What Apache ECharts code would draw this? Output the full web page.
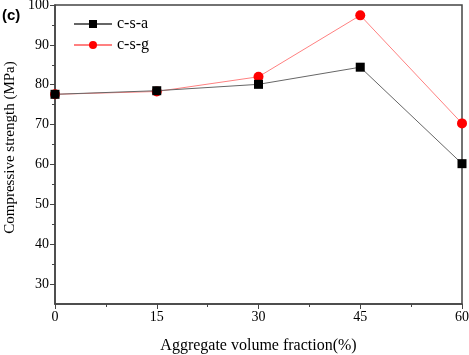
<!DOCTYPE html>
<html><head><meta charset="utf-8">
<script src="https://cdn.jsdelivr.net/npm/echarts@6/dist/echarts.min.js"></script>
<style>html,body{margin:0;padding:0;background:#fff}#c{width:469px;height:355px}</style>
</head><body><div id="c"></div>
<script>
const fractions = [0, 15, 30, 45, 60];
const csa = [77.6, 78.5, 80.1, 84.4, 60.2];
const csg = [77.6, 78.3, 82.0, 97.4, 70.3];
const yMajor = [30, 40, 50, 60, 70, 80, 90, 100];
const yMinor = [35, 45, 55, 65, 75, 85, 95];
const xTicks = [0, 15, 30, 45, 60];

const font = 'Liberation Serif, Times New Roman, serif';
const axisColor = '#444';
const chart = echarts.init(document.getElementById('c'), null, {renderer: 'canvas'});
chart.setOption({
  animation: false,
  grid: {left: 55, right: 7, top: 5, bottom: 51, outerBoundsMode: 'none', containLabel: false, show: true, borderColor: axisColor, borderWidth: 1.5, backgroundColor: 'transparent'},
  graphic: [{type: 'text', left: 2, top: 8, style: {text: '(c)', font: 'bold 15px Arial, Liberation Sans, sans-serif', fill: '#000'}}],
  legend: {
    left: 68, top: 11, orient: 'vertical', itemGap: 5, itemWidth: 38, itemHeight: 10,
    textStyle: {fontFamily: font, fontSize: 16, color: '#000'},
    data: ['c-s-a', 'c-s-g']
  },
  xAxis: {
    type: 'value', min: 0, max: 60, interval: 15,
    name: 'Aggregate volume fraction(%)', nameLocation: 'middle', nameGap: 34,
    nameTextStyle: {fontFamily: font, fontSize: 16, color: '#000'},
    axisLine: {show: true, onZero: false, lineStyle: {color: axisColor, width: 1.5}},
    axisTick: {show: true, length: 5, lineStyle: {color: axisColor}, customValues: xTicks},
    minorTick: {show: true, splitNumber: 2, length: 3, lineStyle: {color: axisColor}},
    axisLabel: {fontFamily: font, fontSize: 14, color: '#000', margin: 6, customValues: xTicks},
    splitLine: {show: false}
  },
  yAxis: [{
    type: 'value', min: 25, max: 100,
    name: 'Compressive strength (MPa)', nameLocation: 'middle', nameGap: 34,
    nameTextStyle: {fontFamily: font, fontSize: 15, color: '#000', padding: [0, 0, 0, 14]},
    axisLine: {show: true, onZero: false, lineStyle: {color: axisColor, width: 1.5}},
    axisTick: {show: true, length: 5, lineStyle: {color: axisColor}, customValues: yMajor},
    axisLabel: {fontFamily: font, fontSize: 14, color: '#000', margin: 6, customValues: yMajor},
    splitLine: {show: false}
  }, {
    type: 'value', min: 25, max: 100, position: 'left',
    axisLine: {show: false},
    axisTick: {show: true, length: 3, lineStyle: {color: axisColor}, customValues: yMinor},
    axisLabel: {show: false, customValues: yMinor},
    splitLine: {show: false}
  }],
  series: [{
    name: 'c-s-a', type: 'line', yAxisIndex: 0,
    data: fractions.map((x, i) => [x, csa[i]]),
    symbol: 'rect', symbolSize: 9,
    itemStyle: {color: '#000'},
    lineStyle: {color: '#666', width: 1},
    z: 3
  }, {
    name: 'c-s-g', type: 'line', yAxisIndex: 0,
    data: fractions.map((x, i) => [x, csg[i]]),
    symbol: 'circle', symbolSize: 10,
    itemStyle: {color: '#ff0000'},
    lineStyle: {color: '#ff8080', width: 1},
    z: 2
  }]
});
</script></body></html>
